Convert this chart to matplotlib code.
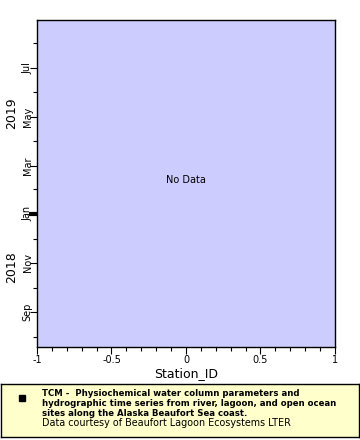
import matplotlib
matplotlib.use("Agg")
import matplotlib.pyplot as plt
import matplotlib.dates as mdates
import matplotlib.transforms as mtransforms
import datetime as dt

# data (none for this station set)
station_ids = []
dates = []
y_start = dt.datetime(2018, 7, 19)
y_end = dt.datetime(2019, 8, 30)
year_labels = ["2018", "2019"]
year_pos = [dt.datetime(2018, 10, 26), dt.datetime(2019, 5, 6)]
year_break = dt.datetime(2019, 1, 1)
legend_lines = ["TCM -  Physiochemical water column parameters and",
                "hydrographic time series from river, lagoon, and open ocean",
                "sites along the Alaska Beaufort Sea coast."]
credit = "Data courtesy of Beaufort Lagoon Ecosystems LTER"

fig = plt.figure(figsize=(3.6, 4.4), dpi=100)
ax = fig.add_axes([37/360, 1-347/440, 298/360, 327/440])
ax.set_facecolor("#ccccff")
ax.plot(station_ids, dates, "s", color="k")
ax.set_xlim(-1, 1)
ax.set_ylim(y_start, y_end)

ax.xaxis.set_major_locator(plt.MultipleLocator(0.5))
ax.xaxis.set_minor_locator(plt.MultipleLocator(0.1))
ax.xaxis.set_major_formatter(plt.FuncFormatter(lambda v, p: "%g" % v))
ax.yaxis.set_major_locator(mdates.MonthLocator(bymonth=[1, 3, 5, 7, 9, 11]))
ax.yaxis.set_minor_locator(mdates.MonthLocator())
ax.yaxis.set_major_formatter(mdates.DateFormatter("%b"))
ax.tick_params(axis="both", which="major", labelsize=7, length=5, width=0.8)
ax.tick_params(axis="x", which="major", pad=1)
ax.tick_params(axis="y", which="major", pad=-2)
ax.tick_params(axis="both", which="minor", length=3, width=0.8)
for lab in ax.get_yticklabels():
    lab.set_rotation(90)
    lab.set_va("center")
ax.set_xlabel("Station_ID", fontsize=9, labelpad=1)

for sp in ax.spines.values():
    sp.set_linewidth(1.0)

trans = mtransforms.blended_transform_factory(ax.transAxes, ax.transData)
for lab, pos in zip(year_labels, year_pos):
    ax.text(-0.085, mdates.date2num(pos), lab, transform=trans, rotation=90,
            ha="center", va="center", fontsize=9)
ax.plot([-0.028, 0], [mdates.date2num(year_break)]*2, transform=trans,
        color="k", lw=3, clip_on=False, solid_capstyle="butt")

ax.text(0.5, 0.51, "No Data", transform=ax.transAxes, ha="center",
        va="center", fontsize=7)

# legend box
lax = fig.add_axes([1/360, 1-437/440, 358/360, 53/440])
lax.set_facecolor("#ffffcc")
lax.set_xticks([])
lax.set_yticks([])
for sp in lax.spines.values():
    sp.set_linewidth(1.0)
lax.set_xlim(0, 358)
lax.set_ylim(53, 0)
lax.plot([21], [14], "s", color="k", markersize=4.5)
for i, line in enumerate(legend_lines):
    lax.text(41, 9 + i*10, line, fontsize=6.8, fontweight="bold",
             fontstretch="condensed", va="center", ha="left")
lax.text(41, 39, credit, fontsize=6.9, va="center", ha="left")

fig.savefig("out.png", dpi=100)
